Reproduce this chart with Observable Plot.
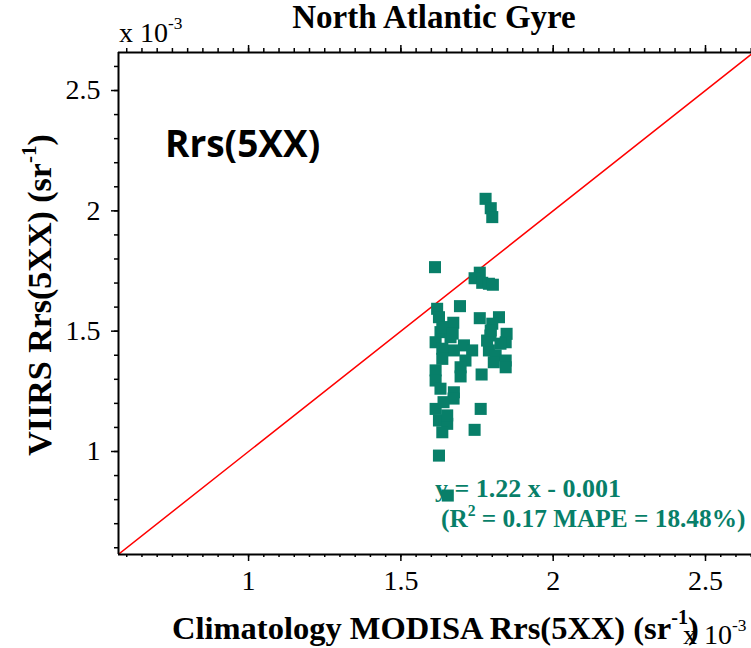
<!DOCTYPE html>
<html><head><meta charset="utf-8">
<script src="https://cdn.jsdelivr.net/npm/d3@7"></script>
<script src="https://cdn.jsdelivr.net/npm/@observablehq/plot@0.6"></script>
<style>body{margin:0;background:#fff} svg{display:block}</style>
</head><body><div id="chart"></div>
<script>
// Climatology MODISA Rrs(5XX) (x 10^-3 sr^-1)
const climX = [1.778,1.795,1.800,1.612,1.759,1.742,1.767,1.789,1.802,1.619,
  1.625,1.694,1.672,1.759,1.822,1.800,1.847,1.794,1.844,1.630,
  1.614,1.663,1.707,1.734,1.674,1.636,1.789,1.811,1.844,1.844,
  1.805,1.712,1.696,1.636,1.614,1.696,1.765,1.614,1.630,1.674,
  1.614,1.673,1.640,1.762,1.625,1.652,1.636,1.742,1.625,1.654,
  1.636,1.670,1.783,1.827,1.795,1.652];
// VIIRS Rrs(5XX) (x 10^-3 sr^-1)
const viirsY = [2.050,2.011,1.974,1.766,1.743,1.720,1.701,1.697,1.693,1.593,
  1.558,1.604,1.535,1.554,1.558,1.531,1.489,1.482,1.454,1.496,
  1.454,1.475,1.441,1.420,1.420,1.427,1.420,1.399,1.378,1.350,
  1.371,1.378,1.350,1.385,1.337,1.312,1.320,1.295,1.261,1.246,
  1.177,1.220,1.205,1.177,1.129,1.115,1.080,1.090,0.983,0.817,
  1.517,1.490,1.461,1.448,1.503,1.150];
const xTicks = [1, 1.5, 2, 2.5];
const yTicks = [1, 1.5, 2, 2.5];
const xDomain = [0.573, 2.651];
const yDomain = [0.572, 2.658];
const oneToOne = [0.5, 2.8];
const xMinor = d3.range(0.6, 2.66, 0.05).map(v => +v.toFixed(2));
const yMinor = d3.range(0.6, 2.66, 0.1).map(v => +v.toFixed(2));

const title = "North Atlantic Gyre";
const bandLabel = "Rrs(5XX)";
const fitLine = "y = 1.22 x - 0.001";
const statsR2 = "0.17", statsMAPE = "18.48%";

const teal = "#087f69";
const points = climX.map((x, i) => ({x, y: viirsY[i]}));
const serif = "'Liberation Serif','Times New Roman',serif";

const chart = Plot.plot({
  width: 751, height: 648,
  marginLeft: 118, marginRight: 0, marginTop: 52, marginBottom: 94,
  style: {background: "#fff", fontFamily: serif, color: "#000"},
  x: {domain: xDomain},
  y: {domain: yDomain},
  marks: [
    Plot.line(oneToOne.map(v => [v, v]), {x: d => d[0], y: d => d[1], stroke: "#ff0000", strokeWidth: 1.5, clip: true}),
    Plot.dot(points, {x: "x", y: "y", symbol: "square", r: 6.8, fill: teal, stroke: null}),
    Plot.ruleX([xDomain[0]], {stroke: "#000", strokeWidth: 2}),
    Plot.ruleY([yDomain[0]], {stroke: "#000", strokeWidth: 2}),
    Plot.ruleY([yDomain[1]], {stroke: "#000", strokeWidth: 2}),
    Plot.axisX({anchor: "bottom", ticks: xTicks, tickSize: 7, tickPadding: 9, fontSize: 28, label: null, tickFormat: d => String(d), strokeWidth: 1.5}),
    Plot.axisX({anchor: "bottom", ticks: xMinor, tickSize: 3, label: null, tickFormat: () => "", strokeWidth: 1.5}),
    Plot.axisX({anchor: "top", ticks: xTicks, tickSize: 8, label: null, tickFormat: () => "", strokeWidth: 1.5}),
    Plot.axisX({anchor: "top", ticks: xMinor, tickSize: 5, label: null, tickFormat: () => "", strokeWidth: 1.5}),
    Plot.axisY({anchor: "left", ticks: yTicks, tickSize: 7, tickPadding: 11, fontSize: 28, label: null, tickFormat: d => String(d), strokeWidth: 1.5}),
    Plot.axisY({anchor: "left", ticks: yMinor, tickSize: 4, label: null, tickFormat: () => "", strokeWidth: 1.5})
  ]
});
document.getElementById("chart").appendChild(chart);

const svg = d3.select(chart);
function addText(parent, {x, y, size, weight = "normal", family = serif, fill = "#000", anchor = "start", transform = null, before = null}, parts) {
  const t = before ? parent.insert("text", before) : parent.append("text");
  t.attr("x", x).attr("y", y).attr("font-size", size).attr("font-weight", weight)
   .attr("font-family", family).attr("fill", fill).attr("text-anchor", anchor);
  if (transform) t.attr("transform", transform);
  parts.forEach(p => {
    const s = typeof p === "string" ? {t: p} : p;
    const ts = t.append("tspan").text(s.t);
    if (s.sup) ts.attr("font-size", size * 0.62).attr("dy", -size * 0.45);
    if (s.after) ts.attr("dy", size * 0.45);
  });
  return t;
}

addText(svg, {x: 434, y: 28, size: 33, weight: "bold", anchor: "middle"}, [title]);
addText(svg, {x: 119, y: 42, size: 28}, ["x 10", {t: "-3", sup: true}]);
addText(svg, {x: 0, y: 0, size: 34, weight: "bold", anchor: "middle", transform: "translate(51,295) rotate(-90)"},
  ["VIIRS Rrs(5XX) (sr", {t: "-1", sup: true}, {t: ")", after: true}]);
addText(svg, {x: 172, y: 639, size: 32.5, weight: "bold"},
  ["Climatology MODISA Rrs(5XX) (sr", {t: "-1", sup: true}, {t: ")", after: true}]);
addText(svg, {x: 683, y: 644, size: 28}, ["x 10", {t: "-3", sup: true}]);
addText(svg, {x: 165, y: 157, size: 37, weight: "bold", family: "'Open Sans',sans-serif"}, [bandLabel]);
addText(svg, {x: 435, y: 497, size: 26, weight: "bold", fill: teal, before: "g[aria-label=dot]"}, [fitLine]);
addText(svg, {x: 441, y: 527, size: 25.3, weight: "bold", fill: teal, before: "g[aria-label=dot]"},
  ["(R", {t: "2", sup: true}, {t: " = " + statsR2 + " MAPE = " + statsMAPE + ")", after: true}]);
</script>
</body></html>
